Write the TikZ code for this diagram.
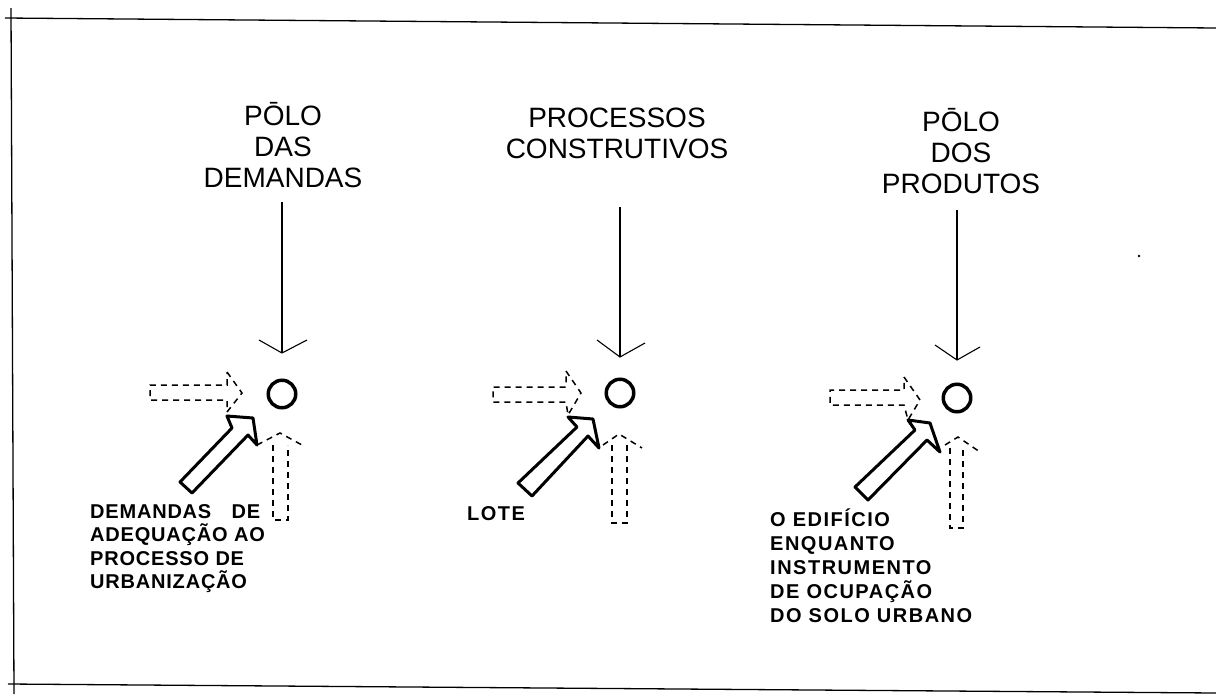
\documentclass[tikz,border=0pt]{standalone}
\usepackage{fontspec}
\setmainfont{Liberation Sans}
\newfontfamily\labfont[LetterSpace=4]{Liberation Sans Bold}
\newfontfamily\labwidefont[LetterSpace=7.5]{Liberation Sans Bold}
\tikzset{
  x=1pt,y=-1pt,
  titletext/.style={font=\fontsize{28}{31}\selectfont,align=center,anchor=center,inner sep=0pt},
  labeltext/.style={font=\labfont\fontsize{20}{23.5}\selectfont,align=left,anchor=north west,inner sep=0pt},
  labelwide/.style={labeltext,font=\labwidefont\fontsize{20}{24}\selectfont},
  framerule/.style={line width=1.3pt},
  thin arrow/.style={line width=1.1pt},
  ring/.style={circle,draw,line width=3.5pt,minimum size=27.5pt,inner sep=0pt},
  dash arrow/.style={line width=1.5pt,dash pattern=on 6pt off 5pt},
  solid arrow/.style={line width=3pt,line join=round},
}
\begin{document}
\begin{tikzpicture}
\useasboundingbox (0,0) rectangle (1216,694);
\fill[white] (0,0) rectangle (1216,694);
\coordinate (fa) at (5,18); \coordinate (fb) at (1216,28);
\coordinate (fc) at (8,684); \coordinate (fd) at (1216,693);
\coordinate (fe) at (11,8); \coordinate (ff) at (14,694);
\draw[framerule] (fa) -- (fb);
\draw[framerule] (fc) -- (fd);
\draw[framerule] (fe) -- (ff);
\fill (1139,256) circle (1.3pt);
\node[titletext] (t1) at (283,145) {PŌLO\\DAS\\DEMANDAS};
\node[titletext] (t2) at (617,133) {PROCESSOS\\CONSTRUTIVOS};
\node[titletext] (t3) at (961,151) {PŌLO\\DOS\\PRODUTOS};
% left
\begin{scope}[shift={(282,394)}]
  \node[ring] (c1) at (0,0) {};
  \coordinate (s1) at (0,-192); \coordinate (h1) at (0,-41);
  \draw[thin arrow] (s1) -- (h1);
  \draw[thin arrow] (-23,-54) -- (h1) -- (25,-54);
  \draw[dash arrow] (-55,-22) -- (-40,-1) -- (-55,18) -- (-55,6) -- (-132,6) -- (-132,-9) -- (-55,-9) -- cycle;
  \draw[dash arrow] (-25,51) -- (-2,39) -- (20,51);
  \draw[dash arrow] (-9,51) -- (-9,126) -- (6,126) -- (6,51);
  \draw[solid arrow] (-102,88) -- (-50,34) -- (-55,22) -- (-29,24) -- (-25,51) -- (-34,41) -- (-90,99) -- cycle;
\end{scope}
% middle
\begin{scope}[shift={(620,393)}]
  \node[ring] (c2) at (0,0) {};
  \coordinate (s2) at (0,-186); \coordinate (h2) at (0,-36);
  \draw[thin arrow] (s2) -- (h2);
  \draw[thin arrow] (-23,-53) -- (h2) -- (25,-50);
  \draw[dash arrow] (-54,-22) -- (-39,0) -- (-52,22) -- (-54,9) -- (-127,9) -- (-127,-6) -- (-54,-6) -- cycle;
  \draw[dash arrow] (-17,52) -- (-1,41) -- (22,55);
  \draw[dash arrow] (-8,52) -- (-8,130) -- (7,130) -- (7,52);
  \draw[solid arrow] (-102,90) -- (-43,34) -- (-52,24) -- (-27,26) -- (-21,55) -- (-32,43) -- (-88,103) -- cycle;
\end{scope}
% right
\begin{scope}[shift={(957,398)}]
  \node[ring] (c3) at (0,0) {};
  \coordinate (s3) at (0,-188); \coordinate (h3) at (0,-38);
  \draw[thin arrow] (s3) -- (h3);
  \draw[thin arrow] (-22,-53) -- (h3) -- (23,-51);
  \draw[dash arrow] (-53,-21) -- (-37,2) -- (-49,22) -- (-53,7) -- (-127,7) -- (-127,-8) -- (-53,-8) -- cycle;
  \draw[dash arrow] (-12,47) -- (1,39) -- (23,54);
  \draw[dash arrow] (-7,50) -- (-7,130) -- (6,130) -- (6,50);
  \draw[solid arrow] (-102,89) -- (-42,32) -- (-49,22) -- (-27,25) -- (-17,54) -- (-30,42) -- (-89,102) -- cycle;
\end{scope}
\node[labeltext] (l1) at (90,504) {DEMANDAS\hspace{14pt} DE\\ADEQUAÇÃO AO\\PROCESSO DE\\URBANIZAÇÃO};
\node[labelwide] (l2) at (467,506) {LOTE};
\node[labelwide] (l3) at (770,509) {O EDIFÍCIO\\ENQUANTO\\INSTRUMENTO\\DE OCUPAÇÃO\\DO SOLO URBANO};
\end{tikzpicture}
\end{document}
